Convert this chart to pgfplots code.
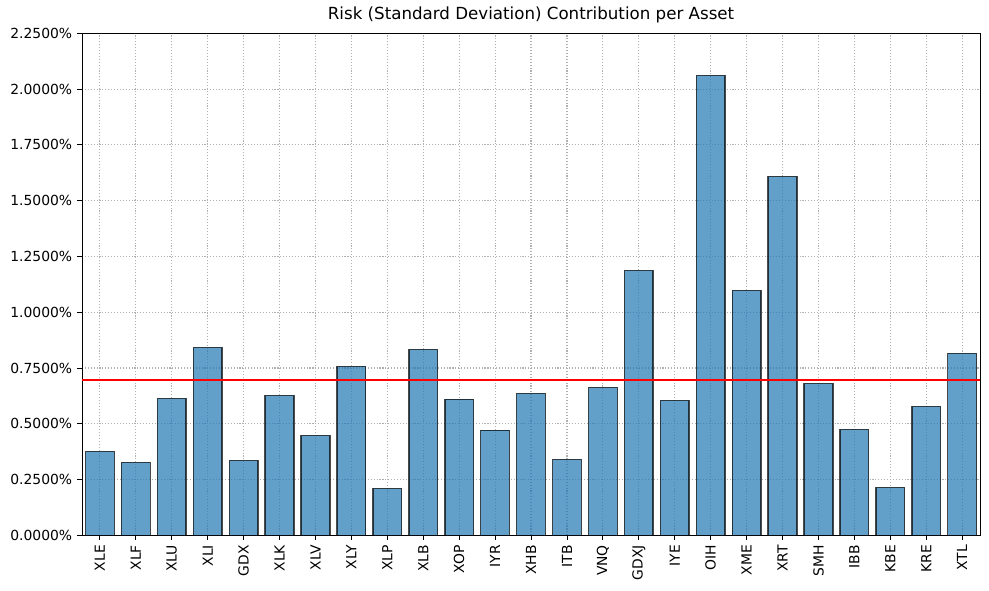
\documentclass[border=0pt]{standalone}
\usepackage{pgfplots}
\pgfplotsset{compat=1.18}
\usepackage{fontspec}
\setmainfont{DejaVu Sans}
\definecolor{mplblue}{HTML}{1F77B4}
\definecolor{gridgray}{HTML}{B0B0B0}
\begin{document}
\begin{tikzpicture}
  \begin{axis}[
    name=main,
    scale only axis,
    width=646.6pt, height=361.4pt,
    xmin=-0.5, xmax=24.5,
    ymin=0, ymax=2.25,
    ybar, bar width=0.8, bar shift=0pt,
    xtick={0,...,24},
    xticklabels={XLE,XLF,XLU,XLI,GDX,XLK,XLV,XLY,XLP,XLB,XOP,IYR,XHB,ITB,VNQ,GDXJ,IYE,OIH,XME,XRT,SMH,IBB,KBE,KRE,XTL},
    x tick label style={rotate=90, anchor=east},
    ytick={0,0.25,...,2.25},
    yticklabel={\pgfmathprintnumber[fixed,fixed zerofill,precision=4]{\tick}\%},
    /pgf/number format/assume math mode=true,
    tick label style={font=\fontsize{10}{12}\selectfont},
    tick align=outside, xtick pos=bottom, ytick pos=left,
    major tick length=3.5pt,
    tick style={black, line width=0.6pt},
    axis line style={line width=0.6pt},
    grid=major,
    major grid style={dash pattern=on 0.8pt off 1.3pt, line width=0.8pt, draw=gridgray},
    title={Risk (Standard Deviation) Contribution per Asset},
    title style={font=\fontsize{12}{14}\selectfont, yshift=-2pt},
  ]
    \addplot[fill=mplblue, fill opacity=0.7, draw=black, draw opacity=0.7, line width=1pt]
      coordinates {
        (0,0.376) (1,0.327) (2,0.614) (3,0.843) (4,0.336)
        (5,0.627) (6,0.448) (7,0.757) (8,0.211) (9,0.834)
        (10,0.610) (11,0.471) (12,0.636) (13,0.341) (14,0.663)
        (15,1.188) (16,0.605) (17,2.062) (18,1.098) (19,1.609)
        (20,0.681) (21,0.475) (22,0.215) (23,0.578) (24,0.816)
      };
    \addplot[sharp plot, red, line width=1.1pt, forget plot]
      coordinates {(-0.5,0.697) (24.5,0.697)};
  \end{axis}
  \path (main.south west) ++(-59pt,-39.6pt) rectangle ++(712pt,425pt);
\end{tikzpicture}
\end{document}
